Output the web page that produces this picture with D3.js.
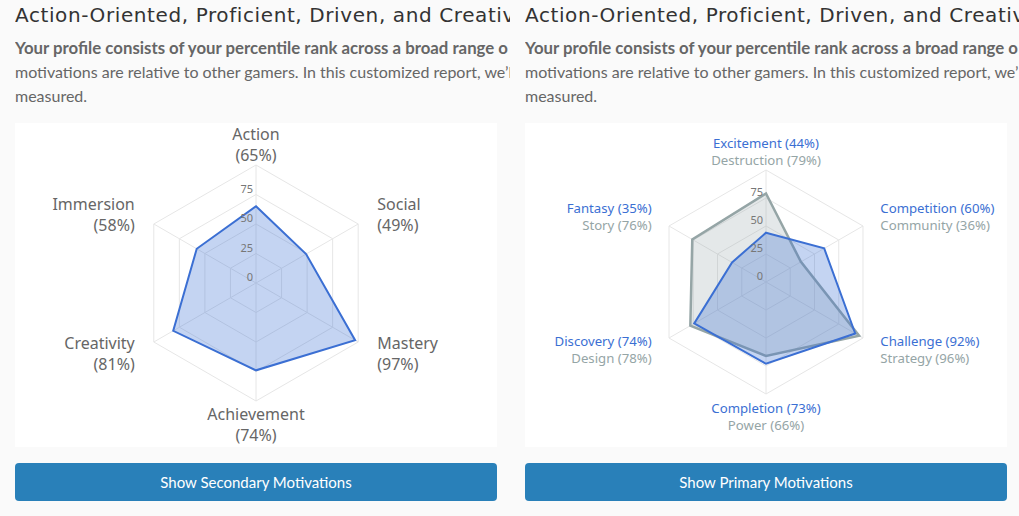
<!DOCTYPE html>
<html lang="en">
<head>
<meta charset="utf-8">
<title>Gamer Motivation Profile</title>
<script src="https://d3js.org/d3.v7.min.js"></script>
<style>
body {
    margin: 0;
    background: #fafafa;
    width: 1019px;
    height: 516px;
    overflow: hidden;
    position: relative;
}
.col {
    position: absolute;
    top: 0;
    height: 516px;
    overflow: hidden;
}
.title {
    position: absolute;
    left: 0;
    top: 2px;
    white-space: nowrap;
    font-family: "DejaVu Sans", sans-serif;
    font-size: 20px;
    letter-spacing: 0.6px;
    line-height: 26px;
    color: #333;
}
.intro {
    position: absolute;
    left: 0;
    top: 36px;
    font-family: Lato, sans-serif;
    font-size: 16px;
    line-height: 24px;
    color: #666;
}
.intro b { display: block; white-space: nowrap; font-size: 16.8px; }
.intro span { display: block; white-space: nowrap; }
.panel {
    position: absolute;
    left: 0;
    top: 123px;
    width: 482px;
    height: 324px;
    background: #fff;
}
.btn {
    position: absolute;
    left: 0;
    top: 463px;
    width: 482px;
    height: 38px;
    line-height: 38px;
    background: #2980b9;
    color: #fff;
    border-radius: 4px;
    text-align: center;
    font-family: Lato, sans-serif;
    font-size: 15px;
}
</style>
</head>
<body>

<div class="col" id="left" style="left:15px;width:495px;">
    <div class="title">Action-Oriented, Proficient, Driven, and Creativ</div>
    <div class="intro">
        <b>Your profile consists of your percentile rank across a broad range o</b>
        <span>motivations are relative to other gamers. In this customized report, we’l</span>
        <span>measured.</span>
    </div>
    <div class="panel"><svg width="482" height="324"></svg></div>
    <div class="btn">Show Secondary Motivations</div>
</div>

<div class="col" id="right" style="left:525px;width:494px;">
    <div class="title">Action-Oriented, Proficient, Driven, and Creativ</div>
    <div class="intro">
        <b>Your profile consists of your percentile rank across a broad range o</b>
        <span>motivations are relative to other gamers. In this customized report, we’l</span>
        <span>measured.</span>
    </div>
    <div class="panel"><svg width="482" height="324"></svg></div>
    <div class="btn">Show Primary Motivations</div>
</div>

<script>
// primary motivations (left chart)
var primaryLabels = ["Action", "Social", "Mastery", "Achievement", "Creativity", "Immersion"];
var primaryValues = [65, 49, 97, 74, 81, 58];

// secondary motivations (right chart), two series
var secondaryLabels = ["Excitement", "Competition", "Challenge", "Completion", "Discovery", "Fantasy"];
var secondaryValues = [44, 60, 92, 73, 74, 35];
var otherLabels = ["Destruction", "Community", "Strategy", "Power", "Design", "Story"];
var otherValues = [79, 36, 96, 66, 78, 76];

var tickValues = [0, 25, 50, 75];
var gridValues = [25, 50, 75, 100];

var blue = "#3b6fd3";
var grey = "#95a5a6";

function angle(i, n) { return -Math.PI / 2 + i * 2 * Math.PI / n; }

function radar(svg, opt) {
    var n = opt.n, R = opt.radius, cx = opt.cx, cy = opt.cy;
    var r = d3.scaleLinear().domain([0, 100]).range([0, R]);
    var g = svg.append("g").attr("transform", "translate(" + cx + "," + cy + ")");

    var ring = d3.lineRadial()
        .angle(function(d, i) { return i * 2 * Math.PI / n; })
        .radius(function(d) { return r(d); })
        .curve(d3.curveLinearClosed);

    // grid hexagons
    g.selectAll(".grid")
      .data(gridValues)
      .enter().append("path")
        .attr("d", function(v) { return ring(d3.range(n).map(function() { return v; })); })
        .attr("fill", "none")
        .attr("stroke", "#e6e6e6")
        .attr("stroke-width", 1);

    // spokes
    g.selectAll(".spoke")
      .data(d3.range(n))
      .enter().append("line")
        .attr("x1", 0).attr("y1", 0)
        .attr("x2", function(i) { return r(100) * Math.cos(angle(i, n)); })
        .attr("y2", function(i) { return r(100) * Math.sin(angle(i, n)); })
        .attr("stroke", "#e6e6e6")
        .attr("stroke-width", 1);

    // series
    opt.series.forEach(function(s) {
        g.append("path")
            .attr("d", ring(s.values))
            .attr("fill", s.fill)
            .attr("stroke", s.color)
            .attr("stroke-width", s.width)
            .attr("stroke-linejoin", "miter");
    });

    // tick labels
    g.selectAll(".tick")
      .data(tickValues)
      .enter().append("text")
        .attr("x", -3)
        .attr("y", function(v) { return -r(v) - 2; })
        .attr("text-anchor", "end")
        .attr("font-family", "'Noto Sans', sans-serif")
        .attr("font-size", 11)
        .attr("fill", "#777")
        .text(function(v) { return v; });

    // point labels
    d3.range(n).forEach(function(i) {
        var a = angle(i, n), c = Math.cos(a), sn = Math.sin(a);
        var lines = opt.lines(i);
        var lh = opt.lineHeight, h = lh * (lines.length - 1);
        var x, y0, anchor;
        if (Math.abs(c) < 0.1) {
            anchor = "middle";
            x = 0;
            y0 = sn < 0 ? -R - opt.topPad - h : R + opt.bottomPad;
        } else {
            anchor = c > 0 ? "start" : "end";
            x = (R + opt.sidePad) * c;
            y0 = (R + 18) * sn - h / 2 + (sn > 0 ? 3 : 0);
        }
        var t = g.append("text")
            .attr("text-anchor", anchor)
            .attr("font-family", "'Noto Sans', sans-serif")
            .attr("font-size", opt.fontSize);
        lines.forEach(function(l, k) {
            t.append("tspan")
                .attr("x", x)
                .attr("y", y0 + k * lh)
                .attr("dy", "0.35em")
                .attr("fill", l.color)
                .text(l.text);
        });
    });
}

radar(d3.select("#left svg"), {
    n: primaryLabels.length, radius: 118, cx: 241, cy: 160,
    fontSize: 16, lineHeight: 21, topPad: 10, bottomPad: 13, sidePad: 22,
    series: [{ values: primaryValues, color: blue, fill: "rgba(59,111,211,0.3)", width: 2 }],
    lines: function(i) {
        return [
            { text: primaryLabels[i], color: "#666" },
            { text: "(" + primaryValues[i] + "%)", color: "#666" }
        ];
    }
});

radar(d3.select("#right svg"), {
    n: secondaryLabels.length, radius: 112, cx: 241, cy: 159,
    fontSize: 13.2, lineHeight: 17, topPad: 10, bottomPad: 14, sidePad: 20,
    series: [
        { values: otherValues, color: grey, fill: "rgba(149,165,166,0.25)", width: 2.5 },
        { values: secondaryValues, color: blue, fill: "rgba(59,111,211,0.3)", width: 2 }
    ],
    lines: function(i) {
        return [
            { text: secondaryLabels[i] + " (" + secondaryValues[i] + "%)", color: blue },
            { text: otherLabels[i] + " (" + otherValues[i] + "%)", color: grey }
        ];
    }
});
</script>
</body>
</html>
